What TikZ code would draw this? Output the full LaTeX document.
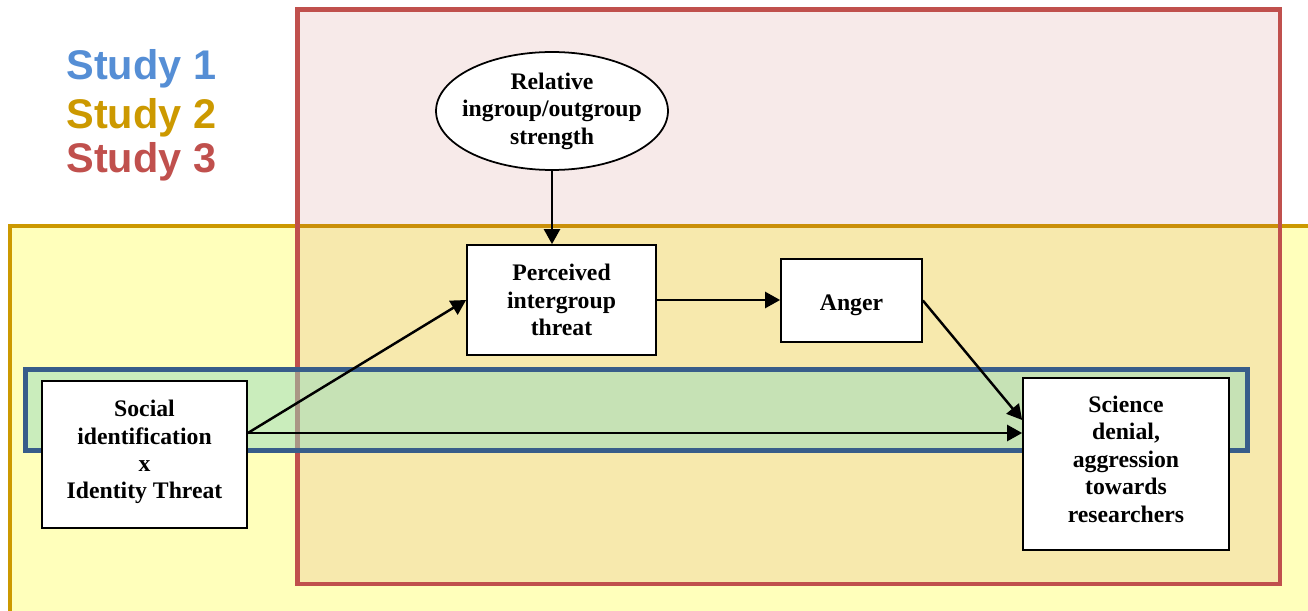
\documentclass[tikz,border=0pt]{standalone}
\usepackage{fontspec}
\setmainfont{Liberation Serif}
\newfontfamily\studyfont{Liberation Sans}
\usetikzlibrary{positioning, arrows.meta, shapes.geometric, calc}
\definecolor{s1color}{RGB}{85,142,213}
\definecolor{s2color}{RGB}{204,153,0}
\definecolor{s3color}{RGB}{192,80,77}
\definecolor{s1border}{RGB}{56,93,138}
\definecolor{s2fill}{RGB}{255,255,187}
\definecolor{s1fill}{RGB}{150,220,190}

\tikzset{
  varbox/.style={draw, line width=1pt, fill=white, align=center, inner sep=2pt,
    font=\fontsize{13.5}{15.6}\selectfont\bfseries},
  link/.style={-{Triangle[length=3mm, width=3.2mm]}, line width=1.4pt},
  studylabel/.style={anchor=base west, inner sep=0pt,
    font=\studyfont\bfseries\fontsize{23.6}{23.6}\selectfont}
}

\begin{document}
\begin{tikzpicture}[x=0.02cm, y=-0.02cm]
    \useasboundingbox (0,0) rectangle (1308,611);
    \clip (0,0) rectangle (1308,611);

    % Study 2
    \draw[s2color, line width=2.8pt, fill=s2fill] (10,226) rectangle (1340,660);

    % Study 3
    \draw[s3color, line width=2.8pt, fill=s3color, fill opacity=0.12] (297.5,9.5) rectangle (1280,584);

    % Study 1
    \draw[s1border, line width=2.8pt, fill=s1fill, fill opacity=0.5] (25.5,369.5) rectangle (1247.5,450.5);

    % Legend
    \node[studylabel, text=s1color] (st1) at (66,80) {Study 1};
    \node[studylabel, text=s2color] (st2) at (66,129) {Study 2};
    \node[studylabel, text=s3color] (st3) at (66,173) {Study 3};

    % Variables
    \node[varbox, minimum width=4.1cm, minimum height=2.94cm, text depth=0.2cm] (soc) at (144.5,454.5) {Social\\identification\\x\\Identity Threat};
    \node[varbox, minimum width=3.78cm, minimum height=2.2cm] (perc) at (561.5,300) {Perceived\\intergroup\\threat};
    \node[varbox, ellipse, inner xsep=-5pt, inner ysep=0pt, minimum width=4.64cm, minimum height=2.36cm] (strength) at (552,111) {Relative\\ingroup/outgroup\\strength};
    \node[varbox, minimum width=2.82cm, minimum height=1.66cm, text height=0.5cm] (anger) at (851.5,300.5) {Anger};
    \node[varbox, minimum width=4.12cm, minimum height=3.44cm, text depth=0.2cm] (denial) at (1126,464) {Science\\denial,\\aggression\\towards\\researchers};

    % Paths
    \coordinate (socout) at ([yshift=0.43cm]soc.east);
    \draw[link] (strength.south) -- (strength.south |- perc.north);
    \draw[link] (socout) -- (perc.west);
    \draw[link] (socout) -- (socout -| denial.west);
    \draw[link] (perc.east) -- (perc.east -| anger.west);
    \draw[link] (anger.east) -- ([yshift=0.88cm]denial.west);
\end{tikzpicture}
\end{document}
